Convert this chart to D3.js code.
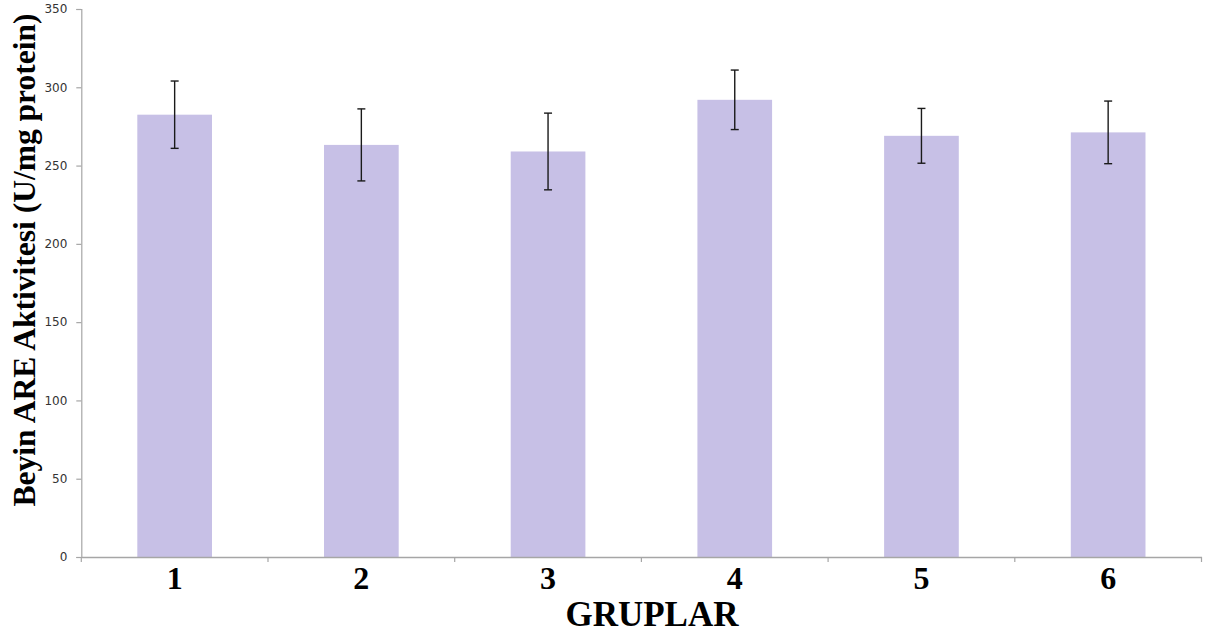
<!DOCTYPE html>
<html>
<head>
<meta charset="utf-8">
<script src="https://cdn.jsdelivr.net/npm/d3@7"></script>
<style>
  html, body { margin: 0; padding: 0; background: #fff; }
  svg { display: block; }
</style>
</head>
<body>
<svg id="chart" width="1216" height="639"></svg>
<script>
const categories = ["1", "2", "3", "4", "5", "6"];
const values = [282.5, 263.2, 259.0, 292.0, 269.0, 271.2];
const errors = [21.5, 23.0, 24.5, 19.0, 17.5, 20.0];
const yTicks = [0, 50, 100, 150, 200, 250, 300, 350];
const xTitle = "GRUPLAR";
const yTitle = "Beyin ARE Aktivitesi (U/mg protein)";

(function () {
const svg = d3.select("#chart");
const mLeft = 81.3, mRight = 1201.5, mTop = 9, mBottom = 557;

const x = d3.scaleBand().domain(categories).range([mLeft, mRight]).padding(0);
const y = d3.scaleLinear().domain([0, 350]).range([mBottom, mTop]);

const barW = x.bandwidth() * 0.4;
const barColor = "#c7c0e6";
const axisColor = "#a6a6a6";

// bars
svg.append("g").selectAll("rect").data(categories).join("rect")
  .attr("x", d => x(d) + x.bandwidth() / 2 - barW / 2)
  .attr("width", barW)
  .attr("y", (d, i) => y(values[i]))
  .attr("height", (d, i) => y(0) - y(values[i]))
  .attr("fill", barColor);

// error bars
const eg = svg.append("g").attr("stroke", "#1a1a1a").attr("stroke-width", 1.4).attr("fill", "none");
categories.forEach((c, i) => {
  const cx = x(c) + x.bandwidth() / 2;
  const y1 = y(values[i] + errors[i]), y2 = y(values[i] - errors[i]);
  eg.append("line").attr("x1", cx).attr("x2", cx).attr("y1", y1).attr("y2", y2);
  eg.append("line").attr("x1", cx - 4).attr("x2", cx + 4).attr("y1", y1).attr("y2", y1);
  eg.append("line").attr("x1", cx - 4).attr("x2", cx + 4).attr("y1", y2).attr("y2", y2);
});

// y axis
const yAxis = svg.append("g").attr("transform", `translate(${mLeft},0)`)
  .call(d3.axisLeft(y).tickValues(yTicks).tickSize(5).tickPadding(9).tickFormat(d3.format("d")));
yAxis.select(".domain").attr("stroke", axisColor).attr("stroke-width", 1.2);
yAxis.selectAll(".tick line").attr("stroke", axisColor).attr("stroke-width", 1.2);
yAxis.selectAll(".tick text").attr("fill", "#333").attr("font-family", "DejaVu Sans, Verdana, sans-serif").attr("font-size", 12);

// x axis
const xAxis = svg.append("g").attr("transform", `translate(0,${mBottom})`)
  .call(d3.axisBottom(x).tickSize(0).tickPadding(0));
xAxis.select(".domain").attr("stroke", axisColor).attr("stroke-width", 1.6);
xAxis.selectAll(".tick text")
  .attr("y", 32)
  .attr("dy", 0)
  .attr("fill", "#000")
  .attr("font-family", "Liberation Serif, Times New Roman, serif")
  .attr("font-weight", "bold")
  .attr("font-size", 32);
const bounds = categories.map(c => x(c)).concat([mRight]);
xAxis.selectAll("line.bound").data(bounds).join("line").attr("class", "bound")
  .attr("x1", d => d).attr("x2", d => d).attr("y1", 0).attr("y2", 5)
  .attr("stroke", axisColor).attr("stroke-width", 1.2);

// titles
svg.append("text")
  .attr("x", 652).attr("y", 626)
  .attr("text-anchor", "middle")
  .attr("font-family", "Liberation Serif, Times New Roman, serif")
  .attr("font-weight", "bold").attr("font-size", 35)
  .attr("fill", "#000")
  .text(xTitle);

svg.append("text")
  .attr("transform", `translate(35,260) rotate(-90)`)
  .attr("text-anchor", "middle")
  .attr("font-family", "Liberation Serif, Times New Roman, serif")
  .attr("font-weight", "bold").attr("font-size", 31.5)
  .attr("fill", "#000")
  .text(yTitle);
})();
</script>
</body>
</html>
